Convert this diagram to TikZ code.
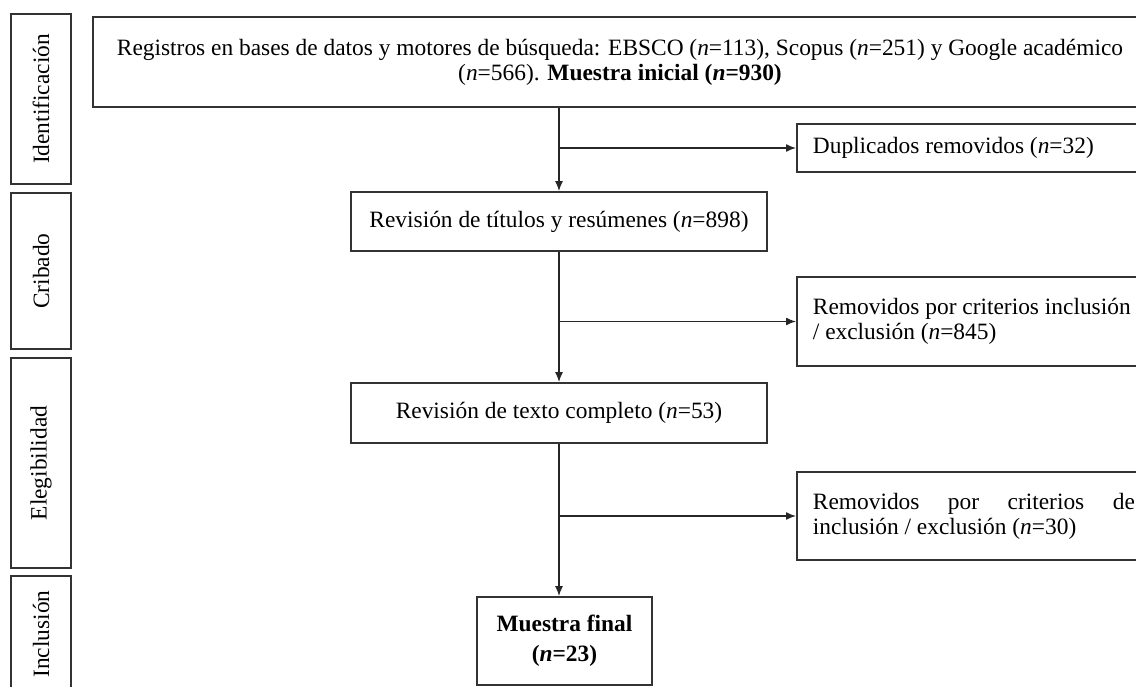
\documentclass[tikz,border=0pt]{standalone}
\usepackage{fontspec}
\setmainfont{Liberation Serif}
\usetikzlibrary{arrows.meta,positioning,calc}
\hyphenpenalty=10000
\exhyphenpenalty=10000

\tikzset{
	caja/.style={draw=black!80, line width=0.9pt, inner sep=0pt, align=center,
		font=\fontsize{11.7}{12.5}\selectfont},
	fase/.style={caja, rotate=90, minimum height=30pt},
	lateral/.style={caja, align=justify, text width=161pt, inner xsep=8pt, anchor=west},
	flecha/.style={draw=black!85, line width=0.7pt, -{Latex[length=5pt,width=4pt]}}
}

\begin{document}
\begin{tikzpicture}[x=0.5pt, y=-0.5pt]
	\useasboundingbox (0,0) rectangle (1136,686);
	\clip (0,0) rectangle (1136,686);

	\node[fase, minimum width=85pt] (ident) at (41,99) {Identificación};
	\node[fase, minimum width=78pt] (crib) at (41,271) {Cribado};
	\node[fase, minimum width=105pt] (eleg) at (41,463) {Elegibilidad};
	\node[fase, minimum width=58pt] (incl) at (41,634) {Inclusión};

	\node[caja, minimum width=527pt, minimum height=45pt] (registros) at (620,62)
		{Registros en bases de datos y motores de búsqueda: EBSCO (\textit{n}=113), Scopus (\textit{n}=251) y Google académico\\
		(\textit{n}=566). \textbf{Muestra inicial (\textit{n}=930)}};
	\node[caja, minimum width=208pt, minimum height=29.5pt] (titulos) at (559,221.5)
		{Revisión de títulos y resúmenes (\textit{n}=898)};
	\node[caja, minimum width=208pt, minimum height=30pt] (completo) at (559,413)
		{Revisión de texto completo (\textit{n}=53)};
	\node[caja, minimum width=87.5pt, minimum height=44pt,
		font=\fontsize{11.7}{15}\selectfont] (final) at (564.5,641)
		{\textbf{Muestra final}\\\textbf{(\textit{n}=23)}};

	\node[lateral, minimum height=24pt] (duplicados) at (796,148)
		{Duplicados removidos (\textit{n}=32)};
	\node[lateral, minimum height=44.5pt] (removidos1) at (796,321.5)
		{Removidos por criterios inclusión\\/ exclusión (\textit{n}=845)};
	\node[lateral, minimum height=44pt] (removidos2) at (796,516)
		{Removidos por criterios de inclusión / exclusión (\textit{n}=30)};

	\draw[flecha] (registros.south -| titulos.north) -- (titulos.north);
	\draw[flecha] (duplicados.west -| titulos.north) -- (duplicados.west);

	\draw[flecha] (titulos.south) -- (completo.north);
	\draw[flecha] (removidos1.west -| titulos.south) -- (removidos1.west);

	\draw[flecha] (completo.south) -- (completo.south |- final.north);
	\draw[flecha] (removidos2.west -| completo.south) -- (removidos2.west);
\end{tikzpicture}
\end{document}
